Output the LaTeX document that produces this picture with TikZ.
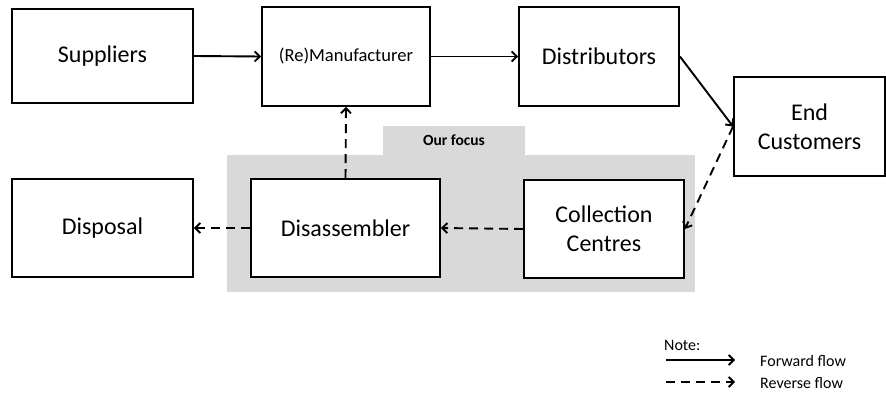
\documentclass[tikz,border=0pt]{standalone}
\usepackage{fontspec}
\setmainfont{Carlito}
\usepackage{xcolor}
\usepackage{tikz}
\usetikzlibrary{arrows.meta, positioning}
\definecolor{focusgray}{RGB}{217, 217, 217}

\begin{document}
\begin{tikzpicture}[x=1pt, y=-1pt,
    >={Straight Barb[length=5pt, width=10pt]},
    box/.style={rectangle, draw, line width=1.9pt, fill=white, align=center, font=\fontsize{24}{29}\selectfont},
    fwd/.style={->, line width=1.9pt},
    rev/.style={->, line width=1.9pt, dash pattern=on 9pt off 6pt},
    legend/.style={anchor=west, inner sep=0pt, font=\fontsize{16}{18}\selectfont}]
    \useasboundingbox (0,0) rectangle (886,393);

    % focus area
    \fill[focusgray] (227,155) rectangle (695,292);
    \fill[focusgray] (383,126) rectangle (525,155);
    \node[font=\bfseries\fontsize{15.5}{18}\selectfont] (focus) at (454,140) {Our focus};

    % forward chain
    \node[box, minimum width=181pt, minimum height=94pt] (sup) at (102.5,56) {Suppliers};
    \node[box, minimum width=168pt, minimum height=99pt, font=\fontsize{18.5}{21}\selectfont] (manu) at (346,56.5) {(Re)Manufacturer};
    \node[box, minimum width=160pt, minimum height=99pt] (dist) at (599,56.5) {Distributors};
    \node[box, minimum width=151pt, minimum height=99pt] (endc) at (809.5,126.5) {End\\Customers};

    % reverse chain
    \node[box, minimum width=160pt, minimum height=98pt] (coll) at (604,229) {Collection\\Centres};
    \node[box, minimum width=189pt, minimum height=98pt] (dis) at (345.5,228) {Disassembler};
    \node[box, minimum width=181pt, minimum height=98pt] (disp) at (102.5,228) {Disposal};

    \draw[fwd] (sup.east) -- (manu.west);
    \draw[fwd] (manu.east) -- (dist.west);
    \draw[fwd] (dist.east) -- (endc.west);

    \draw[rev] (endc.west) -- (coll.east);
    \draw[rev] (coll.west) -- (dis.east);
    \draw[rev] (dis.west) -- (disp.east);
    \draw[rev] (dis.north) -- (manu.south);

    % legend
    \node[legend] (note) at (664,345) {Note:};
    \coordinate (fwdS) at (666,360);
    \coordinate (fwdE) at (735,360);
    \coordinate (revS) at (666,382);
    \coordinate (revE) at (735,382);
    \draw[fwd] (fwdS) -- (fwdE);
    \draw[rev] (revS) -- (revE);
    \node[legend] (fwdtxt) at (760,361) {Forward flow};
    \node[legend] (revtxt) at (760,383) {Reverse flow};
\end{tikzpicture}
\end{document}
